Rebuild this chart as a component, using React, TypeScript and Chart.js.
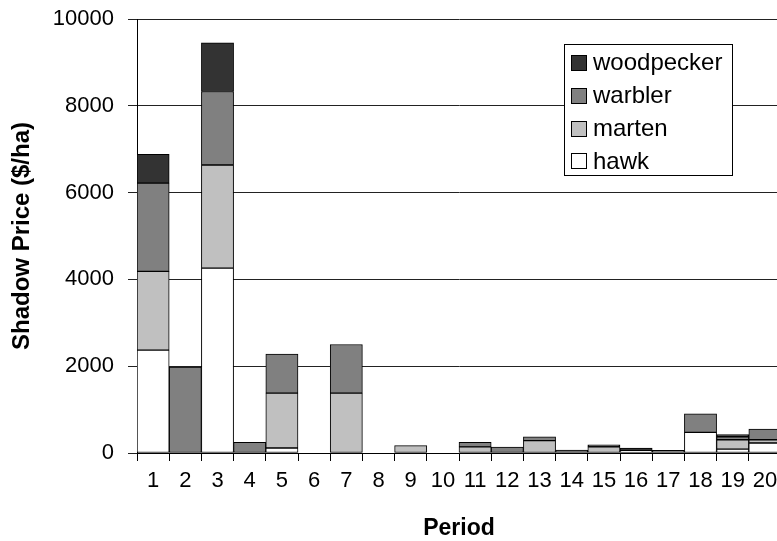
import React, { useEffect, useRef } from 'react';
import { Chart, registerables } from 'chart.js';

Chart.register(...registerables);

const periods = ['1', '2', '3', '4', '5', '6', '7', '8', '9', '10', '11', '12', '13', '14', '15', '16', '17', '18', '19', '20'];
const seriesNames = ['hawk', 'marten', 'warbler', 'woodpecker'];
const hawk = [2370, 0, 4260, 0, 115, 0, 0, 0, 0, 0, 0, 0, 0, 0, 0, 55, 0, 475, 90, 230];
const marten = [1815, 0, 2375, 0, 1265, 0, 1380, 0, 170, 0, 140, 0, 285, 0, 140, 0, 0, 0, 215, 75];
const warbler = [2035, 1980, 1695, 245, 900, 0, 1120, 0, 0, 0, 105, 135, 85, 65, 0, 0, 60, 425, 70, 245];
const woodpecker = [660, 0, 1120, 0, 0, 0, 0, 0, 0, 0, 0, 0, 0, 0, 50, 60, 0, 0, 50, 0];
const yTicks = [0, 2000, 4000, 6000, 8000, 10000];
const colors = ['#FFFFFF', '#C0C0C0', '#808080', '#333333'];

const FONT = '"Liberation Sans", Arial, sans-serif';
const W = 790;
const H = 541;

export default function App() {
  const ref = useRef<HTMLCanvasElement>(null);

  useEffect(() => {
    if (!ref.current) return;
    const values = [hawk, marten, warbler, woodpecker];
    const legendBox = {
      id: 'legendBox',
      afterDraw(chart: any) {
        const ctx = chart.ctx as CanvasRenderingContext2D;
        ctx.save();
        const x0 = 564.5, y0 = 44.5, w = 168, h = 131;
        ctx.fillStyle = '#fff';
        ctx.fillRect(x0, y0, w, h);
        ctx.strokeStyle = '#000';
        ctx.lineWidth = 1;
        ctx.strokeRect(x0, y0, w, h);
        const items = [...chart.data.datasets].reverse();
        items.forEach((ds: any, i: number) => {
          const cy = 62.5 + i * 32.8;
          const sy = Math.round(cy - 7.5) + 0.5;
          ctx.fillStyle = ds.backgroundColor;
          ctx.fillRect(571.5, sy, 15, 15);
          ctx.strokeStyle = '#000';
          ctx.strokeRect(571.5, sy, 15, 15);
          ctx.fillStyle = '#000';
          ctx.font = '24px ' + FONT;
          ctx.textBaseline = 'middle';
          ctx.textAlign = 'left';
          ctx.fillText(ds.label, 593, cy + 1);
        });
        ctx.restore();
      },
    };

    const chart = new Chart(ref.current, {
      type: 'bar',
      data: {
        labels: periods,
        datasets: seriesNames.map((name, i) => ({
          label: name,
          data: values[i].map((v) => (v === 0 ? null : v)),
          backgroundColor: colors[i],
          borderColor: '#000',
          borderWidth: 1,
          borderSkipped: false,
          barPercentage: 1,
          categoryPercentage: 1,
        })),
      },
      options: {
        responsive: false,
        animation: false,
        events: [],
        layout: { padding: { top: 19, right: W - 781, bottom: 0, left: 0 } },
        plugins: { legend: { display: false }, tooltip: { enabled: false } },
        scales: {
          x: {
            stacked: true,
            grid: { display: true, drawOnChartArea: false, drawTicks: true, tickLength: 8, color: '#000', offset: true },
            border: { color: '#000', width: 1 },
            ticks: { font: { family: FONT, size: 22 }, color: '#000', padding: 7, maxRotation: 0, autoSkip: false },
            title: {
              display: true,
              text: 'Period',
              font: { family: FONT, size: 23, weight: 'bold', lineHeight: 1 },
              color: '#000',
              padding: { top: 0, bottom: 1 },
            },
            afterFit(s: any) {
              s.height = 88;
              s.paddingLeft = 0;
              s.paddingRight = 0;
            },
          },
          y: {
            stacked: true,
            min: 0,
            max: 10000,
            afterBuildTicks(s: any) {
              s.ticks = yTicks.map((v) => ({ value: v }));
            },
            grid: { color: '#222', tickLength: 9, drawTicks: true },
            border: { color: '#000', width: 1 },
            ticks: {
              font: { family: FONT, size: 22 },
              color: '#000',
              padding: 14,
              callback: (v: any) => String(v),
            },
            title: {
              display: true,
              text: 'Shadow Price ($/ha)',
              font: { family: FONT, size: 24, weight: 'bold', lineHeight: 1 },
              color: '#000',
              padding: { top: 10, bottom: 0 },
            },
            afterFit(s: any) {
              s.width = 137;
              s.paddingTop = 0;
              s.paddingBottom = 0;
            },
          },
        },
      },
      plugins: [legendBox],
    } as any);

    return () => chart.destroy();
  }, []);

  return (
    <div style={{ position: 'absolute', left: 0, top: 0, width: 777, height: 541, overflow: 'hidden', background: '#fff' }}>
      <canvas ref={ref} width={W} height={H} style={{ display: 'block', width: W + 'px', height: H + 'px' }} />
    </div>
  );
}
